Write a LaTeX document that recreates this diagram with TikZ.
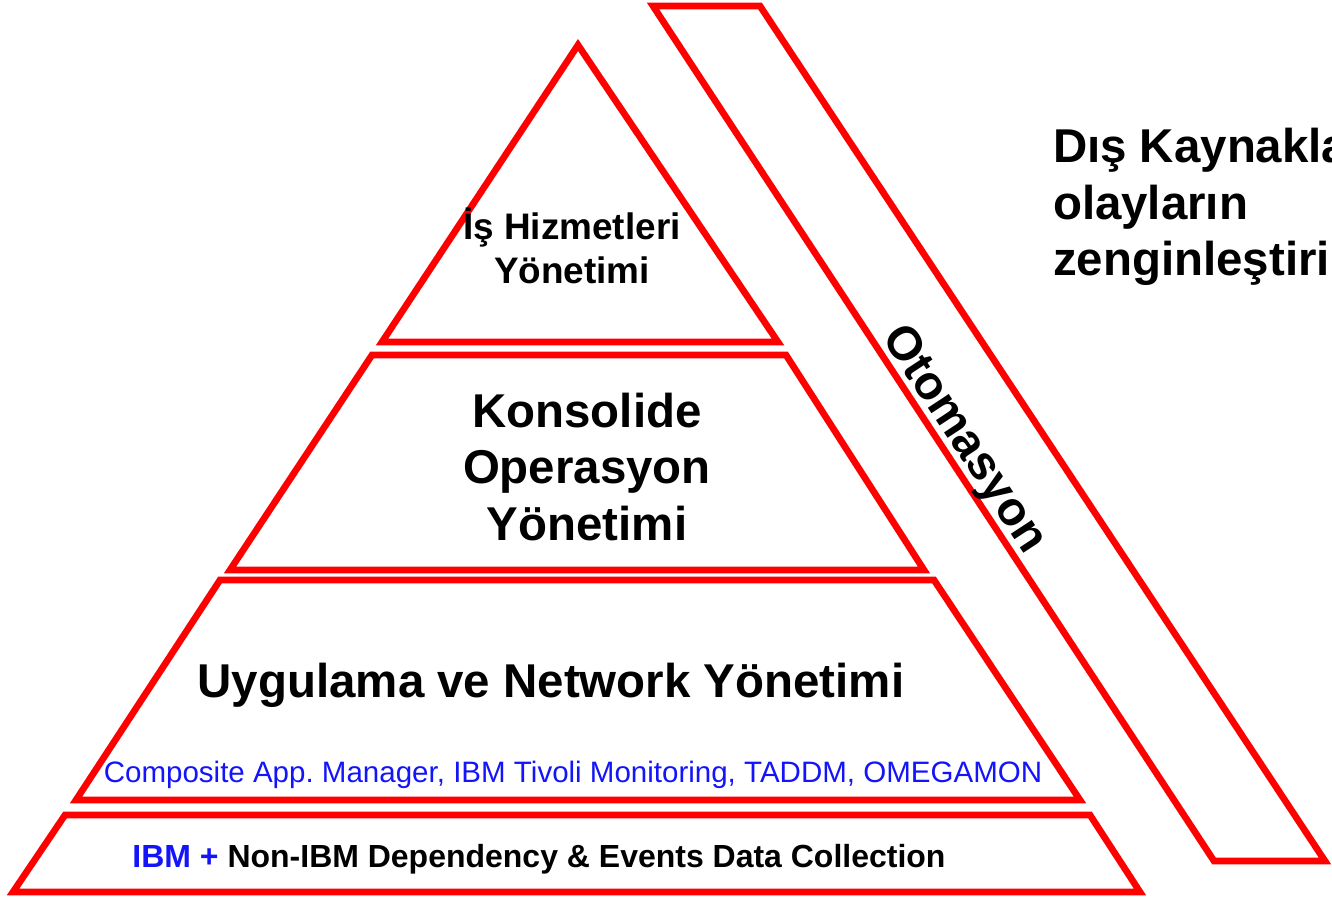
\documentclass[tikz,border=0pt]{standalone}
\usepackage{fontspec}
\setmainfont{Liberation Sans}
\frenchspacing
\definecolor{katman}{RGB}{255,0,0}
\definecolor{ibmmavi}{RGB}{20,20,250}
\begin{document}
\begin{tikzpicture}[line join=miter, every node/.style={align=center, inner sep=0pt, outer sep=0pt}, layer/.style={draw=katman, line width=3.8pt}, baslik/.style={font=\bfseries\fontsize{27}{32}\selectfont}]
	\useasboundingbox (0, 0) rectangle (26.64, -18);

	% piramit katmanlari
	\draw[layer] (11.56, -0.9) -- (15.56, -6.84) -- (7.64, -6.84) -- cycle;
	\draw[layer] (7.44, -7.1) -- (15.72, -7.1) -- (18.48, -11.4) -- (4.6, -11.4) -- cycle;
	\draw[layer] (4.4, -11.6) -- (18.68, -11.6) -- (21.6, -16) -- (1.52, -16) -- cycle;
	\draw[layer] (1.3, -16.3) -- (21.8, -16.3) -- (22.8, -17.84) -- (0.26, -17.84) -- cycle;

	% otomasyon seridi
	\draw[layer] (13.06, -0.12) -- (15.2, -0.12) -- (26.5, -17.22) -- (24.28, -17.22) -- cycle;

	\node[font=\bfseries\fontsize{21}{25}\selectfont] (isHizmet) at (11.44, -4.92) {İş Hizmetleri\\Yönetimi};
	\node[baslik] (konsolide) at (11.74, -9.34) {Konsolide\\Operasyon\\Yönetimi};
	\node[baslik] (uygulama) at (11.02, -13.7) {Uygulama ve Network Yönetimi};
	\node[font=\fontsize{16.8}{20}\selectfont, text=ibmmavi] (araclar) at (11.46, -15.5) {Composite App. Manager, IBM Tivoli Monitoring, TADDM, OMEGAMON};
	\node[font=\bfseries\fontsize{18.2}{22}\selectfont] (veriToplama) at (10.78, -17.18) {\textcolor{ibmmavi}{IBM +} Non-IBM Dependency \& Events Data Collection};
	\node[baslik, rotate=-56.7] (otomasyon) at (19.26, -8.8) {Otomasyon};
	\node[baslik, anchor=west, align=left] (disKaynak) at (21.06, -4.14) {Dış Kaynakla\\olayların\\zenginleştiri};
\end{tikzpicture}
\end{document}
